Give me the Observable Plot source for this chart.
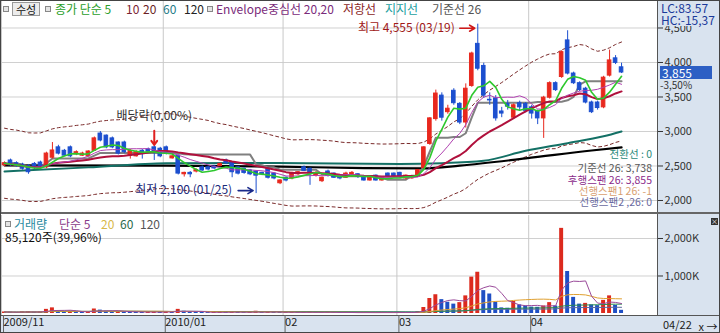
<!DOCTYPE html>
<html><head><meta charset="utf-8">
<script src="https://cdn.jsdelivr.net/npm/d3@7"></script>
<script src="https://cdn.jsdelivr.net/npm/@observablehq/plot@0.6"></script>
<style>
body{margin:0;background:#fff;}
#wrap{position:relative;width:720px;height:333px;overflow:hidden;background:#fff;font-family:"Noto Sans CJK KR","Noto Sans",sans-serif;}
.t{position:absolute;white-space:nowrap;font-size:12px;line-height:14px;}
.s{position:absolute;white-space:nowrap;font-size:10.5px;line-height:11px;text-align:right;right:68px;}
.ic{position:absolute;width:4px;height:4px;border:1px solid #888;background:#e4e4e4;}
#rstrip{position:absolute;left:657px;top:0;width:63px;height:333px;background:#d9e3ef;border-left:1px solid #555;}
#bstrip{position:absolute;left:0;top:315px;width:720px;height:18px;background:#d9e3ef;border-top:1px solid #555;}
#sep{position:absolute;left:0;top:212px;width:720px;height:2px;background:#666;}
#price,#vol{position:absolute;left:0;}
#price{top:0;}#vol{top:213px;}
#frame{position:absolute;left:0;top:0;width:720px;height:333px;box-sizing:border-box;border:1px solid #444;pointer-events:none;}
</style></head><body>
<div id="wrap">
  <div id="rstrip"></div>
  <div id="bstrip"></div>
  <div id="price"></div>
  <div id="vol"></div>
  <div id="sep"></div>
  <div class="ic" style="left:3px;top:6px"></div>
  <div class="t" style="left:12px;top:2px;width:28px;height:14px;box-sizing:border-box;border:1px solid #999;background:#ececec;text-align:center;color:#111;font-size:11px;line-height:12px">수성</div>
  <div class="ic" style="left:45px;top:6px"></div>
  <div class="t" style="left:55px;top:2px;color:#2a9e2a">종가 단순 5</div>
  <div class="t" style="left:126px;top:2px;color:#7a2232">10</div>
  <div class="t" style="left:143px;top:2px;color:#6a1e24">20</div>
  <div class="t" style="left:163px;top:2px;color:#1f7a86">60</div>
  <div class="t" style="left:184px;top:2px;color:#222">120</div>
  <div class="ic" style="left:207px;top:6px"></div>
  <div class="t" style="left:216px;top:2px;color:#7a2a7a">Envelope중심선 20,20</div>
  <div class="t" style="left:343px;top:2px;color:#8a2424">저항선</div>
  <div class="t" style="left:385px;top:2px;color:#22a0a0">지지선</div>
  <div class="t" style="left:432px;top:2px;color:#555">기준선 26</div>

  <div class="s" style="top:148px;color:#2a8a7a">전환선 : 0</div>
  <div class="s" style="top:162px;color:#555">기준선 26: 3,738</div>
  <div class="s" style="top:174px;color:#8a2a8a">후행스팬 26: 3,855</div>
  <div class="s" style="top:185px;color:#d8a070">선행스팬1 26: -1</div>
  <div class="s" style="top:196px;color:#6a6aa0">선행스팬2 ,26: 0</div>

  <div class="ic" style="left:5px;top:221px"></div>
  <div class="t" style="left:14px;top:217px;color:#2a8aa0">거래량</div>
  <div class="t" style="left:59px;top:217px;color:#8a3a8a">단순 5</div>
  <div class="t" style="left:101px;top:217px;color:#d8b848">20</div>
  <div class="t" style="left:120px;top:217px;color:#2a6a4a">60</div>
  <div class="t" style="left:140px;top:217px;color:#555">120</div>
  <div class="t" style="left:5px;top:230px;color:#111">85,120주(39,96%)</div>

  <div class="t" style="left:661px;top:1px;color:#1a3a9a">LC:83,57</div>
  <div class="t" style="left:658px;top:13px;width:60px;height:13px;padding-left:3px;background:#d9e3ef;color:#1a3a9a">HC:-15,37</div>
  <div class="t" style="left:660px;top:66px;width:50px;height:13px;line-height:13px;padding-left:2px;background:#2d5fc4;color:#fff">3,855</div>
  <div class="t" style="left:660px;top:80px;color:#333;font-size:10px;line-height:10px">-3,50%</div>
  <div class="t" style="left:663px;top:317px;color:#222;font-size:11px">04/22</div>
  <div style="position:absolute;left:711px;top:218px;width:7px;height:7px;background:#333;color:#fff;font-size:7px;line-height:7px;text-align:center">×</div>
  <div id="frame"></div>
</div>
<script>
// ---- data (daily, 2009-11-23 .. 2010-04-22) ----
const opens = [2510,2580,2540,2520,2500,2530,2550,2480,2620,2770,2720,2770,2670,2650,2640,2720,2970,2940,2900,2840,2840,2650,2640,2720,2740,2770,2750,
2770,2610,2650,2380,2400,2420,2480,2480,2490,2500,2580,2550,2480,2460,2435,2420,2400,2460,2390,2250,
2330,2320,2380,2480,2460,2360,2280,2420,2390,2360,2330,2350,2380,2330,2290,2360,2290,2390,2390,
2400,2320,2320,2360,2470,2820,3180,3520,3280,3590,3400,3130,3660,4270,3950,3460,3480,3290,3400,3200,3410,3400,
3350,3290,3190,3490,3700,3790,4320,3840,3700,3620,3420,3420,3350,3810,4060,3930];
const highs = [2560,2600,2560,2540,2520,2550,2570,2700,2840,2800,2740,2790,2720,2700,2720,2920,3000,2950,2920,2850,2860,2740,2720,2740,2760,2790,2770,
2790,2650,2660,2410,2420,2460,2500,2490,2510,2540,2600,2560,2490,2470,2450,2430,2410,2470,2400,2300,
2340,2410,2420,2500,2470,2420,2340,2440,2400,2370,2410,2420,2390,2340,2340,2370,2340,2400,2400,
2410,2370,2360,2450,2780,3200,3600,3560,3380,3620,3420,3690,4150,4555,3990,3560,3520,3350,3450,3400,3440,3420,
3380,3310,3510,3720,3720,4170,4460,3860,3720,3640,3440,3440,3800,4180,4100,3990];
const lows = [2490,2490,2480,2440,2380,2450,2470,2460,2600,2660,2640,2620,2650,2640,2630,2710,2850,2750,2750,2660,2680,2600,2630,2600,2690,2580,2620,
2660,2600,2370,2340,2330,2400,2420,2430,2450,2490,2520,2330,2370,2380,2360,2100,2360,2310,2300,2230,
2270,2300,2360,2420,2220,2340,2260,2340,2320,2300,2320,2340,2320,2280,2280,2280,2280,2330,2330,
2320,2300,2310,2350,2450,2800,3150,3150,3250,3380,3100,3050,3640,3880,3480,3380,3150,3200,3310,3180,3300,3270,
3180,3100,2900,3470,3580,3770,3820,3680,3580,3400,3260,3310,3330,3790,3970,3840];
const closes = [2540,2510,2500,2460,2410,2470,2490,2680,2725,2680,2650,2640,2700,2680,2710,2900,2870,2770,2770,2680,2700,2720,2700,2695,2710,2700,2640,
2680,2640,2390,2400,2380,2440,2435,2450,2465,2530,2540,2410,2390,2400,2380,2360,2380,2330,2320,2290,
2290,2400,2410,2430,2390,2400,2330,2360,2330,2320,2390,2400,2340,2290,2330,2290,2330,2340,2340,
2340,2360,2345,2440,2770,3190,3550,3200,3330,3410,3130,3620,4130,3910,3520,3450,3190,3260,3360,3380,3350,3300,
3260,3190,3490,3700,3600,4150,3840,3700,3600,3420,3280,3340,3780,4030,3995,3855];
// volume in thousand shares
const volumes = [40,35,30,45,50,35,
40,110,150,70,45,60,40,35,50,120,90,60,50,55,45,40,35,30,40,45,35,
50,40,110,60,40,35,30,25,30,40,35,45,30,25,30,60,30,40,35,30,
30,35,25,30,40,25,30,35,25,20,30,25,20,25,20,25,30,20,25,
30,25,30,45,160,400,500,370,300,250,290,470,970,1100,610,520,300,150,140,320,230,200,
170,165,200,290,200,2270,1120,430,250,270,230,210,350,470,215,85];
// 60- and 120-day price averages at some days (need data before the window)
const ma60Day = [0,14,27,45,66,73,80,87,94,100,103];
const ma60Val = [2420,2480,2540,2545,2530,2540,2575,2720,2830,2930,3000];
const ma120Day = [0,27,46,60,70,76,87,98,103];
const ma120Val = [2510,2505,2490,2470,2465,2505,2610,2725,2770];
const monthStart = [0,27,47,66,88];
const monthLabel = ["2009/11","2010/01","02","03","04"];
const priceTicks = [2000,2500,3000,3500,4000,4500];
const volTicks = [1000,2000];
const exDivDay = 25, exDivText = "배당락(0,00%)";
const hiDate = "03/19", loDate = "01/25";

// ---- derived ----
const N = closes.length, idx = d3.range(N);
const days = idx.map(i => ({i, o: opens[i], h: highs[i], l: lows[i], c: closes[i], v: volumes[i]}));
const sma = (arr, n) => arr.map((_, i) => d3.mean(arr.slice(Math.max(0, i - n + 1), i + 1)));
const ser = vals => vals.map((y, x) => ({x, y}));
const ma5 = sma(closes, 5), ma10 = sma(closes, 10), ma20 = sma(closes, 20);
const base26 = idx.map(i => (d3.max(highs.slice(Math.max(0, i - 25), i + 1)) + d3.min(lows.slice(Math.max(0, i - 25), i + 1))) / 2);
const RED = "#e8281e", BLUE = "#1c4fcf";
const cc = d => d.c >= d.o ? RED : BLUE;
const grid = monthStart.map(d => d - 0.5);
const labMap = new Map(grid.map((g, k) => [g, monthLabel[k]]));
const xDom = [-0.5, 109];
const font = '"Noto Sans CJK KR","Noto Sans",sans-serif';
const fmt = d3.format(",");
const hiI = d3.maxIndex(highs), loI = d3.minIndex(lows);

const price = Plot.plot({
  width: 720, height: 213, marginLeft: 1, marginRight: 63, marginTop: 1, marginBottom: 1,
  style: {background: "none", fontFamily: font, fontSize: "11px", color: "#333", overflow: "visible"},
  x: {domain: xDom, axis: null},
  y: {domain: [1826, 4884], axis: null},
  color: {type: "identity"},
  marks: [
    Plot.ruleY(priceTicks, {stroke: "#d0d0d0"}),
    Plot.ruleX(grid, {stroke: "#c8c8c8"}),
    Plot.line(ser(ma20.map(v => v * 1.2)), {x: "x", y: "y", stroke: "#7a2a2a", strokeDasharray: "3,3", strokeWidth: 1}),
    Plot.line(ser(ma20.map(v => v * 0.8)), {x: "x", y: "y", stroke: "#7a2a2a", strokeDasharray: "3,3", strokeWidth: 1}),
    Plot.line(ma120Day.map((d, k) => ({x: d, y: ma120Val[k]})), {x: "x", y: "y", stroke: "#000", strokeWidth: 2.2, curve: "monotone-x"}),
    Plot.line(ma60Day.map((d, k) => ({x: d, y: ma60Val[k]})), {x: "x", y: "y", stroke: "#137065", strokeWidth: 2, curve: "monotone-x"}),
    Plot.line(ser(base26), {x: "x", y: "y", stroke: "#808080", strokeWidth: 2}),
    Plot.ruleX(days, {x: "i", y1: "l", y2: "h", stroke: cc, strokeWidth: 1}),
    Plot.rect(days, {x1: d => d.i - 0.3, x2: d => d.i + 0.3, y1: "o", y2: "c", fill: cc, stroke: cc, strokeWidth: 1}),
    Plot.line(ser(ma20), {x: "x", y: "y", stroke: "#b0103c", strokeWidth: 2}),
    Plot.line(ser(ma10), {x: "x", y: "y", stroke: "#b040b0", strokeWidth: 1}),
    Plot.line(ser(ma5), {x: "x", y: "y", stroke: "#2ec82e", strokeWidth: 1.6}),
    // annotations
    Plot.text([{x: hiI, y: highs[hiI]}], {x: "x", y: "y", text: d => `최고 ${fmt(d.y)} (${hiDate})`, textAnchor: "end", dx: -23, dy: 4, fill: "#a01818", fontSize: 12}),
    Plot.arrow([{x: hiI, y: highs[hiI]}], {x1: d => d.x - 3, x2: "x", y1: "y", y2: "y", dy: 4, insetEnd: 3, stroke: "#d01818", strokeWidth: 1.6, headLength: 6}),
    Plot.text([{x: loI, y: lows[loI]}], {x: "x", y: "y", text: d => `최저 ${fmt(d.y)} (${loDate})`, textAnchor: "end", dx: -24, dy: -3, fill: "#1a2a7a", fontSize: 12}),
    Plot.arrow([{x: loI, y: lows[loI]}], {x1: d => d.x - 3, x2: "x", y1: "y", y2: "y", dy: -3, insetEnd: 3, stroke: "#1a2a8a", strokeWidth: 1.6, headLength: 6}),
    Plot.text([{x: exDivDay, y: highs[exDivDay]}], {x: "x", y: "y", text: () => exDivText, dy: -30, fill: "#333", fontSize: 12}),
    Plot.arrow([{x: exDivDay, y: highs[exDivDay]}], {x1: "x", x2: "x", y1: d => d.y + 220, y2: "y", insetEnd: 1, stroke: "#e02020", strokeWidth: 2, headLength: 7, headAngle: 70}),
    Plot.axisY({anchor: "right", ticks: priceTicks, tickFormat: fmt, tickSize: 5, tickPadding: 2, fontSize: 11, stroke: "#333", fill: "#333"})
  ]
});
document.getElementById("price").appendChild(price);

const vma5 = sma(volumes, 5), vma20 = sma(volumes, 20), vma60 = sma(volumes, 60), vma120 = sma(volumes, 120);
const vcol = d => (d.i === 0 || d.v >= volumes[d.i - 1]) ? "#dc2a1e" : "#1f4fc4";
const vol = Plot.plot({
  width: 720, height: 120, marginLeft: 1, marginRight: 63, marginTop: 2, marginBottom: 18,
  style: {background: "none", fontFamily: font, fontSize: "11px", color: "#333", overflow: "visible"},
  x: {domain: xDom, axis: null},
  y: {domain: [0, 2613], range: [100, 2], axis: null},
  color: {type: "identity"},
  marks: [
    Plot.ruleY(volTicks, {stroke: "#d0d0d0"}),
    Plot.ruleX(grid, {stroke: "#c8c8c8"}),
    Plot.rect(days, {x1: d => d.i - 0.33, x2: d => d.i + 0.33, y1: 0, y2: "v", fill: vcol}),
    Plot.line(ser(vma120), {x: "x", y: "y", stroke: "#5a6aa0", strokeWidth: 1}),
    Plot.line(ser(vma60), {x: "x", y: "y", stroke: "#2a8a50", strokeWidth: 1}),
    Plot.line(ser(vma20), {x: "x", y: "y", stroke: "#e0a030", strokeWidth: 1}),
    Plot.line(ser(vma5), {x: "x", y: "y", stroke: "#9a4a9a", strokeWidth: 1}),
    Plot.axisY({anchor: "right", ticks: volTicks, tickFormat: d => fmt(d) + "K", tickSize: 5, tickPadding: 2, fontSize: 11, stroke: "#333", fill: "#333"}),
    Plot.axisX({ticks: grid, tickFormat: d => labMap.get(d), tickSize: 18, tickPadding: -15, textAnchor: "start", dx: 2, fontSize: 11, stroke: "#666", fill: "#222"})
  ]
});
document.getElementById("vol").appendChild(vol);
</script>
</body></html>
